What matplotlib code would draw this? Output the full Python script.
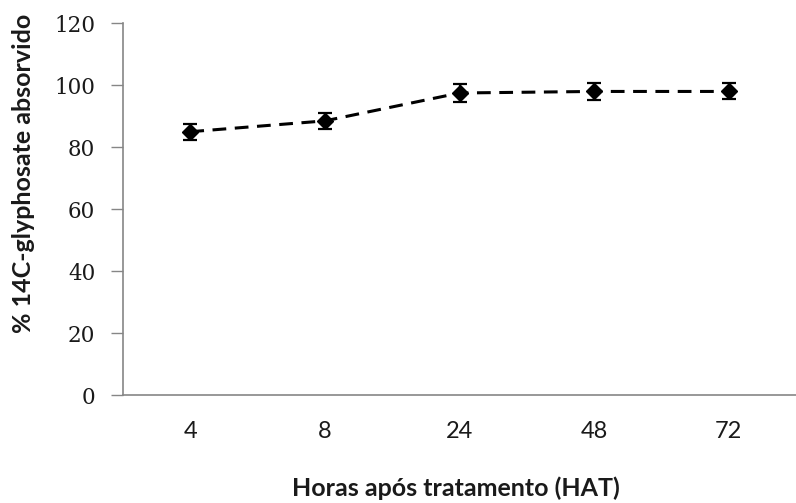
import matplotlib.pyplot as plt
import numpy as np

# dados
horas = ['4', '8', '24', '48', '72']
absorvido = [85.0, 88.5, 97.5, 98.0, 98.0]
erro = [2.6, 2.6, 2.8, 2.8, 2.6]

fig = plt.figure(figsize=(7.96, 5.03), dpi=100)
ax = fig.add_axes([123 / 796, 1 - 395 / 503, 1 - 123 / 796, (395 - 23.3) / 503])

x = np.arange(len(horas))
ax.errorbar(x, absorvido, yerr=erro, color='black', linestyle=(0, (4.5, 2.8)),
            linewidth=2.2, marker='D', markersize=8, capsize=5, capthick=1.6,
            elinewidth=1.6)

ax.set_xlim(-0.5, len(horas) - 0.5)
ax.set_ylim(0, 120)
ax.set_yticks(range(0, 121, 20))
ax.set_xticks(x)
ax.set_xticklabels(horas)

for s in ['top', 'right']:
    ax.spines[s].set_visible(False)
for s in ['left', 'bottom']:
    ax.spines[s].set_color('#868686')
    ax.spines[s].set_linewidth(1.2)

ax.tick_params(axis='y', length=9, width=1.0, color='#868686', pad=11,
               labelsize=15.5, labelcolor='#1a1a1a',
               labelfontfamily='DejaVu Serif')
ax.tick_params(axis='x', length=0, pad=19, labelsize=17, labelcolor='#1a1a1a',
               labelfontfamily='Lato')

fig.text(24 / 796, 1 - 173.5 / 503, '% 14C-glyphosate absorvido', rotation=90,
         ha='center', va='center', fontsize=18, fontweight='bold',
         family='Lato', color='#1a1a1a')
fig.text(456 / 796, 1 - 488 / 503, 'Horas após tratamento (HAT)',
         ha='center', va='center', fontsize=18, fontweight='bold',
         family='Lato', color='#1a1a1a')

fig.savefig('out.png', dpi=100)
